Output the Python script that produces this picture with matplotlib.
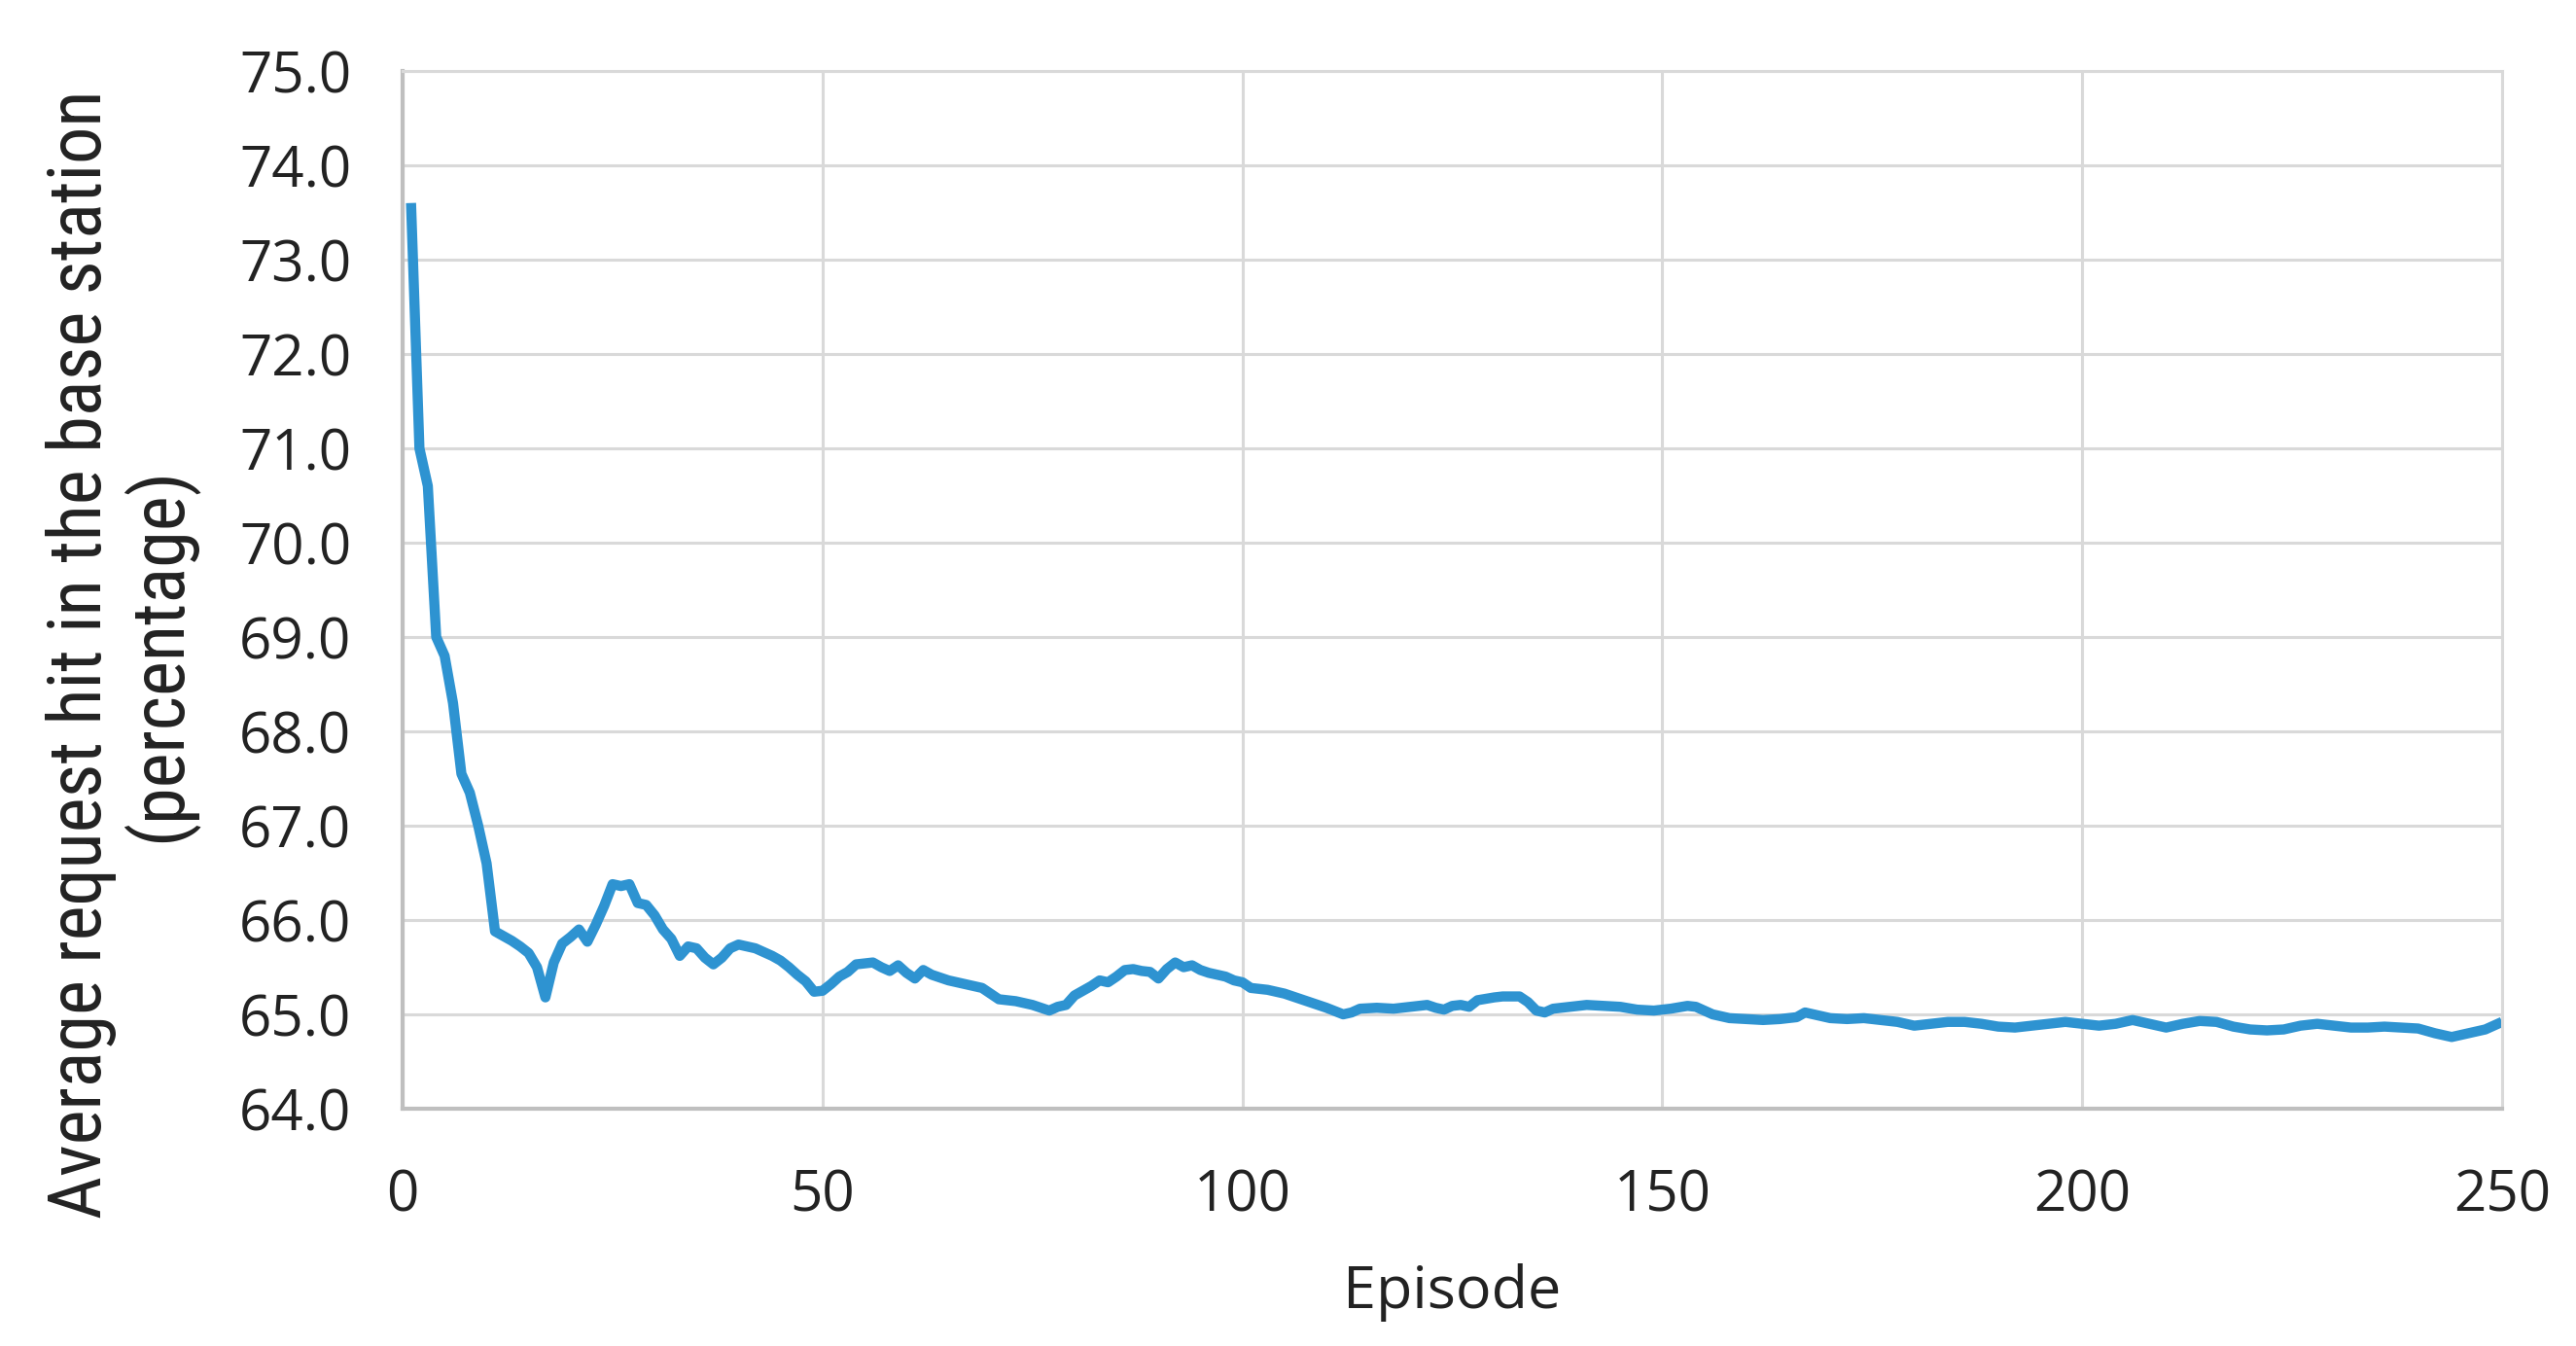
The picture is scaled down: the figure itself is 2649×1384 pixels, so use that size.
import matplotlib
matplotlib.use("Agg")
import matplotlib.pyplot as plt
from matplotlib import font_manager

# values
episode = [1, 2, 3, 4, 5, 6, 7, 8, 9, 10,
           11, 12, 13, 14, 15, 16, 17, 18, 19, 20,
           21, 22, 23, 24, 25, 26, 27, 28, 29, 30,
           31, 32, 33, 34, 35, 36, 37, 38, 39, 40,
           41, 42, 43, 44, 45, 46, 47, 48, 49, 50,
           51, 52, 53, 54, 56, 57, 58, 59, 60, 61,
           62, 63, 65, 67, 69, 70, 71, 73, 75, 77,
           78, 79, 80, 82, 83, 84, 85, 86, 87, 88,
           89, 90, 91, 92, 93, 94, 95, 96, 97, 98,
           99, 100, 101, 103, 105, 107, 108, 110, 112, 113,
           114, 116, 118, 120, 122, 123, 124, 125, 126, 127,
           128, 130, 131, 133, 134, 135, 136, 137, 139, 141,
           143, 145, 147, 149, 151, 153, 154, 156, 158, 160,
           162, 164, 166, 167, 168, 170, 172, 174, 176, 178,
           180, 182, 184, 186, 188, 190, 192, 194, 196, 198,
           200, 202, 204, 206, 208, 210, 212, 214, 216, 218,
           220, 222, 224, 226, 228, 230, 232, 234, 236, 238,
           240, 242, 244, 246, 248, 250]
hit_rate = [73.6, 71.0, 70.6, 69.0, 68.8, 68.3, 67.55, 67.35, 67.0, 66.6,
            65.88, 65.83, 65.78, 65.72, 65.65, 65.5, 65.18, 65.55, 65.75, 65.82,
            65.9, 65.77, 65.95, 66.15, 66.38, 66.36, 66.38, 66.18, 66.16, 66.05,
            65.9, 65.8, 65.62, 65.72, 65.7, 65.6, 65.53, 65.6, 65.7, 65.74,
            65.72, 65.7, 65.66, 65.62, 65.57, 65.5, 65.42, 65.35, 65.24, 65.25,
            65.32, 65.4, 65.45, 65.53, 65.55, 65.5, 65.46, 65.52, 65.44, 65.38,
            65.47, 65.42, 65.36, 65.32, 65.28, 65.22, 65.16, 65.14, 65.1, 65.04,
            65.08, 65.1, 65.2, 65.3, 65.36, 65.34, 65.4, 65.47, 65.48, 65.46,
            65.45, 65.38, 65.48, 65.55, 65.5, 65.52, 65.47, 65.44, 65.42, 65.4,
            65.36, 65.34, 65.28, 65.26, 65.22, 65.16, 65.13, 65.07, 65.0, 65.02,
            65.06, 65.07, 65.06, 65.08, 65.1, 65.07, 65.05, 65.09, 65.1, 65.08,
            65.15, 65.18, 65.19, 65.19, 65.13, 65.04, 65.02, 65.06, 65.08, 65.1,
            65.09, 65.08, 65.05, 65.04, 65.06, 65.09, 65.08, 65.0, 64.96, 64.95,
            64.94, 64.95, 64.97, 65.02, 65.0, 64.96, 64.95, 64.96, 64.94, 64.92,
            64.88, 64.9, 64.92, 64.92, 64.9, 64.87, 64.86, 64.88, 64.9, 64.92,
            64.9, 64.88, 64.9, 64.94, 64.9, 64.86, 64.9, 64.93, 64.92, 64.87,
            64.84, 64.83, 64.84, 64.88, 64.9, 64.88, 64.86, 64.86, 64.87, 64.86,
            64.85, 64.8, 64.76, 64.8, 64.84, 64.92]

x_ticks = [0, 50, 100, 150, 200, 250]
y_ticks = [64, 65, 66, 67, 68, 69, 70, 71, 72, 73, 74, 75]

plt.rcParams['font.family'] = ['Open Sans', 'DejaVu Sans']

# narrow face for the rotated label, if one is installed
names = {f.name for f in font_manager.fontManager.ttflist}
stretches = {(f.name, str(f.stretch)) for f in font_manager.fontManager.ttflist}
ylab_kw = dict(family='Open Sans', fontsize=46)
if 'Liberation Sans Narrow' in names:
    ylab_kw = dict(family='Liberation Sans Narrow', fontsize=58)
elif 'Roboto Condensed' in names:
    ylab_kw = dict(family='Roboto Condensed', fontsize=55)
elif ('DejaVu Sans', 'condensed') in stretches or ('DejaVu Sans', '300') in stretches:
    ylab_kw = dict(family='DejaVu Sans', fontstretch='condensed', fontsize=47)

fig = plt.figure(figsize=(26.49, 13.84), dpi=100)
ax = fig.add_axes([0.1563, 0.1763, 0.815, 0.771])

ax.plot(episode, hit_rate, color='#2E93D1', linewidth=7.5,
        solid_joinstyle='round', solid_capstyle='butt')

ax.set_xlim(0, 250)
ax.set_ylim(64, 75)
ax.set_xticks(x_ticks)
ax.set_yticks(y_ticks)
ax.set_yticklabels(['%.1f' % v for v in y_ticks])
ax.tick_params(axis='both', length=0, labelsize=42, labelcolor='#222222')
ax.tick_params(axis='y', pad=38)
ax.tick_params(axis='x', pad=44)

ax.grid(True, color='#D9D9D9', linewidth=2.2)
ax.set_axisbelow(True)
for side in ['top', 'right']:
    ax.spines[side].set_color('#D9D9D9')
    ax.spines[side].set_linewidth(2.2)
for side in ['bottom', 'left']:
    ax.spines[side].set_color('#BFBFBF')
    ax.spines[side].set_linewidth(3)

ax.set_xlabel('Episode', fontsize=44, color='#222222', labelpad=28)

fig.text(0.0470, 0.514, 'Average request hit in the base station\n(percentage)',
         rotation=90, ha='center', va='center', multialignment='center',
         color='#222222', linespacing=1.05, **ylab_kw)

fig.savefig('out.png', dpi=100, facecolor='white')
